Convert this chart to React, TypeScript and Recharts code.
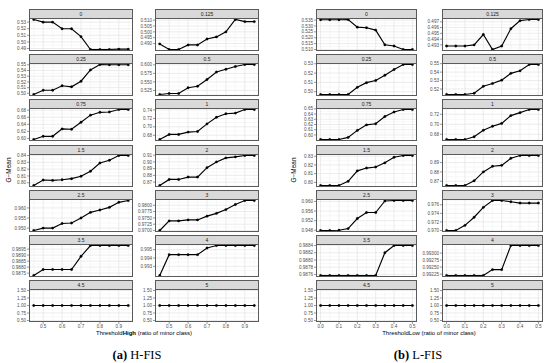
import React from 'react';
import { LineChart, Line, XAxis, YAxis, ReferenceLine } from 'recharts';

// facet labels (ratio), shared by both figures
const facetLabels = ['0', '0.125', '0.25', '0.5', '0.75', '1', '1.5', '2', '2.5', '3', '3.5', '4', '4.5', '5'];

const highThreshold = [0.45, 0.5, 0.55, 0.6, 0.65, 0.7, 0.75, 0.8, 0.85, 0.9, 0.95];
const lowThreshold = [0, 0.05, 0.1, 0.15, 0.2, 0.25, 0.3, 0.35, 0.4, 0.45, 0.5];

const highXTicks = ['0.5', '0.6', '0.7', '0.8', '0.9'];
const lowXTicks = ['0.0', '0.1', '0.2', '0.3', '0.4', '0.5'];

// H-FIS G-Mean, one row per facet
const highGMean = [
  [0.534, 0.530, 0.530, 0.520, 0.520, 0.508, 0.4885, 0.4885, 0.4885, 0.489, 0.489],
  [0.4897, 0.4849, 0.4849, 0.4888, 0.4888, 0.4939, 0.4957, 0.500, 0.5106, 0.5088, 0.5088],
  [0.498, 0.5055, 0.5055, 0.5133, 0.5115, 0.5212, 0.541, 0.5505, 0.55, 0.55, 0.55],
  [0.513, 0.516, 0.516, 0.533, 0.537, 0.557, 0.579, 0.587, 0.595, 0.601, 0.601],
  [0.597, 0.606, 0.606, 0.627, 0.626, 0.646, 0.666, 0.674, 0.675, 0.682, 0.682],
  [0.670, 0.682, 0.682, 0.6875, 0.689, 0.707, 0.7225, 0.731, 0.7325, 0.741, 0.741],
  [0.796, 0.804, 0.8035, 0.8045, 0.806, 0.8095, 0.817, 0.829, 0.833, 0.840, 0.840],
  [0.865, 0.874, 0.874, 0.8775, 0.8775, 0.8915, 0.900, 0.906, 0.9075, 0.9095, 0.9095],
  [0.9488, 0.950, 0.950, 0.9523, 0.9525, 0.955, 0.9578, 0.959, 0.9603, 0.9628, 0.9637],
  [0.970, 0.9738, 0.9738, 0.9742, 0.9742, 0.9757, 0.9768, 0.9783, 0.9803, 0.9819, 0.9819],
  [0.9873, 0.9878, 0.9878, 0.9878, 0.9878, 0.9889, 0.9898, 0.9898, 0.9898, 0.9898, 0.9898],
  [0.9919, 0.9944, 0.9944, 0.9944, 0.9944, 0.9952, 0.9955, 0.9955, 0.9955, 0.9955, 0.9955],
  [1, 1, 1, 1, 1, 1, 1, 1, 1, 1, 1],
  [1, 1, 1, 1, 1, 1, 1, 1, 1, 1, 1],
];

const highYTicks = [
  ['0.49', '0.50', '0.51', '0.52', '0.53'],
  ['0.490', '0.495', '0.500', '0.505', '0.510'],
  ['0.50', '0.51', '0.52', '0.53', '0.54', '0.55'],
  ['0.525', '0.550', '0.575', '0.600'],
  ['0.60', '0.62', '0.64', '0.66', '0.68'],
  ['0.68', '0.70', '0.72', '0.74'],
  ['0.80', '0.81', '0.82', '0.83', '0.84'],
  ['0.87', '0.88', '0.89', '0.90', '0.91'],
  ['0.950', '0.955', '0.960'],
  ['0.9700', '0.9725', '0.9750', '0.9775', '0.9800'],
  ['0.9875', '0.9880', '0.9885', '0.9890', '0.9895'],
  ['0.993', '0.994', '0.995'],
  ['0.50', '0.75', '1.00', '1.25', '1.50'],
  ['0.50', '0.75', '1.00', '1.25', '1.50'],
];

// L-FIS G-Mean, one row per facet
const lowGMean = [
  [0.5353, 0.5353, 0.5353, 0.5355, 0.529, 0.5285, 0.5265, 0.514, 0.513, 0.510, 0.510],
  [0.4928, 0.4928, 0.4928, 0.4930, 0.4948, 0.4922, 0.4928, 0.4958, 0.4972, 0.4974, 0.4974],
  [0.497, 0.497, 0.497, 0.497, 0.5047, 0.5097, 0.512, 0.5177, 0.5238, 0.5292, 0.5292],
  [0.5135, 0.5135, 0.5135, 0.515, 0.5232, 0.5265, 0.5305, 0.5385, 0.5415, 0.549, 0.549],
  [0.5913, 0.5913, 0.5913, 0.5953, 0.6087, 0.6193, 0.6213, 0.6353, 0.644, 0.6487, 0.6487],
  [0.6695, 0.6695, 0.6695, 0.675, 0.688, 0.696, 0.7017, 0.7173, 0.7232, 0.7295, 0.7295],
  [0.7964, 0.7964, 0.7964, 0.8012, 0.8132, 0.8164, 0.8176, 0.8224, 0.8288, 0.8308, 0.8308],
  [0.8655, 0.8655, 0.8655, 0.8705, 0.880, 0.886, 0.887, 0.8945, 0.8975, 0.8975, 0.8975],
  [0.9479, 0.9479, 0.948, 0.9487, 0.9529, 0.9554, 0.9554, 0.9602, 0.9604, 0.9604, 0.9604],
  [0.970, 0.970, 0.9712, 0.9731, 0.9754, 0.977, 0.977, 0.9767, 0.9764, 0.9764, 0.9764],
  [0.98757, 0.98757, 0.98757, 0.98757, 0.98757, 0.98757, 0.98757, 0.9882, 0.9884, 0.9884, 0.9884],
  [0.9922, 0.9922, 0.9922, 0.9922, 0.9922, 0.99241, 0.99241, 0.99327, 0.99327, 0.99327, 0.99327],
  [1, 1, 1, 1, 1, 1, 1, 1, 1, 1, 1],
  [1, 1, 1, 1, 1, 1, 1, 1, 1, 1, 1],
];

const lowYTicks = [
  ['0.510', '0.515', '0.520', '0.525', '0.530', '0.535'],
  ['0.493', '0.494', '0.495', '0.496', '0.497'],
  ['0.50', '0.51', '0.52', '0.53'],
  ['0.52', '0.53', '0.54', '0.55'],
  ['0.60', '0.61', '0.62', '0.63', '0.64', '0.65'],
  ['0.68', '0.70', '0.72'],
  ['0.80', '0.81', '0.82', '0.83'],
  ['0.87', '0.88', '0.89'],
  ['0.948', '0.952', '0.956', '0.960'],
  ['0.970', '0.972', '0.974', '0.976'],
  ['0.9876', '0.9878', '0.9880', '0.9882', '0.9884'],
  ['0.99225', '0.99250', '0.99275', '0.99300'],
  ['0.50', '0.75', '1.00', '1.25', '1.50'],
  ['0.50', '0.75', '1.00', '1.25', '1.50'],
];

const STRIP_H = 9;
const PLOT_H = 33;
const AXIS_W = 30;
const X_AXIS_H = 10;
const EDGE = 4; // room so tick labels at the panel edges are not clipped
const TICK_FONT = 4.6;
const FONT = '"Liberation Sans", Arial, sans-serif';

// ggplot-style minor breaks: halfway between majors
function minorBreaks(major: number[], domain: number[]) {
  const s = [...major].sort((a, b) => a - b);
  const step = s.length > 1 ? s[1] - s[0] : 0;
  const out: number[] = [];
  for (let i = -1; i < s.length; i++) {
    const m = (i < 0 ? s[0] - step : s[i]) + step / 2;
    if (m > domain[0] && m < domain[1]) out.push(m);
  }
  return out;
}

const labelFor = (labels: string[]) => (v: number) =>
  labels.find(l => Math.abs(Number(l) - v) < 1e-9) ?? '';

function Panel({ left, top, width, label, xs, ys, yTicks, xTicks, showX }: any) {
  const data = xs.map((x: number, i: number) => ({ x, gmean: ys[i] }));
  const lo = Math.min(...ys);
  const hi = Math.max(...ys);
  const pad = hi > lo ? (hi - lo) * 0.05 : 0.55;
  const yDomain = [lo - pad, hi + pad];
  const xPad = (xs[xs.length - 1] - xs[0]) * 0.05;
  const xDomain = [xs[0] - xPad, xs[xs.length - 1] + xPad];
  const yMajor = yTicks.map(Number);
  const xMajor = xTicks.map(Number);
  const yMinor = minorBreaks(yMajor, yDomain);
  const xMinor = minorBreaks(xMajor, xDomain);

  return (
    <>
      <div
        style={{
          position: 'absolute', left, top, width, height: STRIP_H, boxSizing: 'border-box',
          background: '#d9d9d9', border: '0.8px solid #5a5a5a', borderBottom: 'none',
          fontSize: 5, lineHeight: `${STRIP_H - 1}px`, textAlign: 'center', color: '#1a1a1a',
        }}
      >
        {label}
      </div>
      <div style={{ position: 'absolute', left: left - AXIS_W, top: top + STRIP_H - EDGE }}>
        <LineChart
          width={width + AXIS_W}
          height={PLOT_H + EDGE + (showX ? X_AXIS_H : EDGE)}
          data={data}
          margin={{ top: EDGE, right: 0, bottom: showX ? 0 : EDGE, left: 0 }}
        >
          {xMinor.map(v => <ReferenceLine key={'xm' + v} x={v} stroke="#f1f1f1" strokeWidth={0.5} />)}
          {yMinor.map(v => <ReferenceLine key={'ym' + v} y={v} stroke="#f1f1f1" strokeWidth={0.5} />)}
          {xMajor.map(v => <ReferenceLine key={'x' + v} x={v} stroke="#e4e4e4" strokeWidth={0.7} />)}
          {yMajor.map(v => <ReferenceLine key={'y' + v} y={v} stroke="#e4e4e4" strokeWidth={0.7} />)}
          <XAxis
            dataKey="x"
            type="number"
            domain={xDomain}
            allowDataOverflow
            ticks={xMajor}
            interval={0}
            hide={!showX}
            height={showX ? X_AXIS_H : 0}
            axisLine={false}
            tickSize={2}
            tickMargin={1}
            tickLine={{ stroke: '#333', strokeWidth: 0.5 }}
            tick={{ fontSize: TICK_FONT, fill: '#4d4d4d', fontFamily: FONT }}
            tickFormatter={labelFor(xTicks)}
          />
          <YAxis
            type="number"
            domain={yDomain}
            allowDataOverflow
            ticks={yMajor}
            interval={0}
            width={AXIS_W}
            axisLine={false}
            tickSize={2}
            tickMargin={1}
            tickLine={{ stroke: '#333', strokeWidth: 0.5 }}
            tick={{ fontSize: TICK_FONT, fill: '#4d4d4d', fontFamily: FONT }}
            tickFormatter={labelFor(yTicks)}
          />
          <Line
            dataKey="gmean"
            stroke="#000"
            strokeWidth={1.15}
            dot={{ r: 1.2, fill: '#000', stroke: '#000', strokeWidth: 0.3 }}
            activeDot={false}
            isAnimationActive={false}
          />
        </LineChart>
      </div>
      <div
        style={{
          position: 'absolute', left, top: top + STRIP_H, width, height: PLOT_H,
          boxSizing: 'border-box', border: '0.8px solid #5a5a5a', pointerEvents: 'none',
        }}
      />
    </>
  );
}

function FacetFigure({ colLefts, width, xs, gmean, yTicks, xTicks }: any) {
  return (
    <>
      {facetLabels.map((label, i) => {
        const row = Math.floor(i / 2);
        const col = i % 2;
        return (
          <Panel
            key={label}
            left={colLefts[col]}
            top={Math.round(9 + row * 45.2)}
            width={width}
            label={label}
            xs={xs}
            ys={gmean[i]}
            yTicks={yTicks[i]}
            xTicks={xTicks}
            showX={row === 6}
          />
        );
      })}
    </>
  );
}

const SERIF = '"Liberation Serif", "Times New Roman", serif';

export default function App() {
  return (
    <div
      style={{
        position: 'absolute', left: 0, top: 0, width: 550, height: 363,
        background: '#fff', overflow: 'hidden', fontFamily: FONT,
      }}
    >
      <FacetFigure
        colLefts={[29, 155]}
        width={104}
        xs={highThreshold}
        gmean={highGMean}
        yTicks={highYTicks}
        xTicks={highXTicks}
      />
      <FacetFigure
        colLefts={[316, 442]}
        width={101}
        xs={lowThreshold}
        gmean={lowGMean}
        yTicks={lowYTicks}
        xTicks={lowXTicks}
      />
      <svg width={550} height={363} style={{ position: 'absolute', left: 0, top: 0, pointerEvents: 'none' }}>
        <text x={9} y={170} fontSize={6.5} fill="#000" textAnchor="middle" transform="rotate(-90 9 170)" dominantBaseline="middle">
          G−Mean
        </text>
        <text x={294} y={170} fontSize={6.5} fill="#000" textAnchor="middle" transform="rotate(-90 294 170)" dominantBaseline="middle">
          G−Mean
        </text>
        <text x={144} y={335} fontSize={6} fill="#000" textAnchor="middle">
          Threshold<tspan fontWeight="bold">High</tspan> (ratio of minor class)
        </text>
        <text x={429} y={335} fontSize={6} fill="#000" textAnchor="middle">
          ThresholdLow (ratio of minor class)
        </text>
        <text x={137} y={359} fontSize={12.5} fontFamily={SERIF} textAnchor="middle">
          <tspan fontWeight="bold">(a)</tspan>
          <tspan fontWeight="normal"> H-FIS</tspan>
        </text>
        <text x={418} y={359} fontSize={12.5} fontFamily={SERIF} textAnchor="middle">
          <tspan fontWeight="bold">(b)</tspan>
          <tspan fontWeight="normal"> L-FIS</tspan>
        </text>
      </svg>
    </div>
  );
}
